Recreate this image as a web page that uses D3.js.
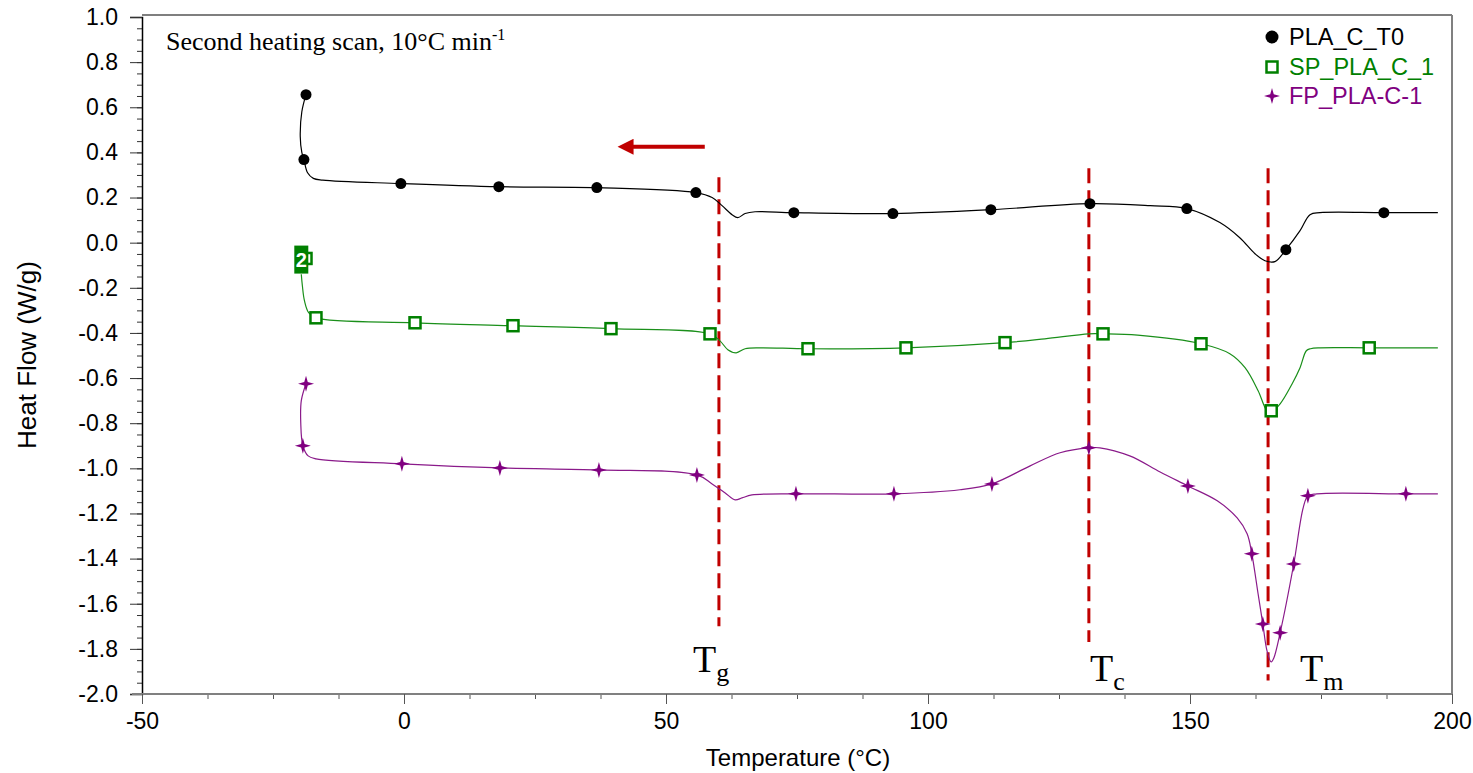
<!DOCTYPE html>
<html>
<head>
<meta charset="utf-8">
<script src="https://cdn.jsdelivr.net/npm/d3@7"></script>
<style>
  body { margin: 0; background: #fff; }
  svg { display: block; }
</style>
</head>
<body>
<div id="chart"></div>
<script>
// Data ---------------------------------------------------------------------------------------------------------------
const seriesNames = ["PLA_C_T0", "SP_PLA_C_1", "FP_PLA-C-1"];

// [temperature (°C), heat flow (W/g)]
const plaCurve = [
  [-18.7, 0.656], [-19.5, 0.58], [-19.8, 0.47], [-19.5, 0.40], [-19.1, 0.368], [-18.4, 0.31], [-17.3, 0.285],
  [-15.5, 0.277], [-0.6, 0.262], [18.1, 0.248], [36.8, 0.244], [55.7, 0.222], [58.8, 0.20], [60.7, 0.164],
  [62.6, 0.124], [63.7, 0.111], [65.1, 0.129], [67, 0.137], [74.4, 0.133], [93.3, 0.129], [112, 0.146],
  [130.9, 0.173], [142.4, 0.164], [149.4, 0.151], [155.7, 0.089], [159.5, 0.022], [162.4, -0.049],
  [164.3, -0.08], [166.2, -0.084], [168.3, -0.031], [171, 0.053], [172.9, 0.124], [174.8, 0.133],
  [187, 0.133], [197.3, 0.133]
];
const plaMarkers = [
  [-18.7, 0.656], [-19.1, 0.368], [-0.6, 0.262], [18.1, 0.248], [36.8, 0.244], [55.7, 0.222], [74.4, 0.133],
  [93.3, 0.129], [112, 0.146], [130.9, 0.173], [149.4, 0.151], [168.3, -0.031], [187, 0.133]
];

const spCurve = [
  [-19.6, -0.14], [-19.4, -0.19], [-19.0, -0.257], [-18.2, -0.31], [-16.8, -0.333], [2.1, -0.355],
  [20.8, -0.368], [39.5, -0.381], [58.4, -0.404], [60.3, -0.435], [61.8, -0.474], [63.4, -0.488],
  [65.1, -0.47], [68, -0.466], [77.1, -0.47], [95.8, -0.466], [114.7, -0.443], [122.3, -0.426],
  [130.7, -0.404], [133.4, -0.404], [140, -0.41], [152.1, -0.448], [157.6, -0.492], [160.5, -0.554],
  [163, -0.656], [164.7, -0.745], [165.5, -0.75], [167.2, -0.714], [169.5, -0.625], [171, -0.554],
  [172.2, -0.479], [173, -0.47], [174.8, -0.466], [184.2, -0.466], [197.3, -0.466]
];
const spMarkers = [
  [-18.7, -0.07], [-16.8, -0.333], [2.1, -0.355], [20.8, -0.368], [39.5, -0.381], [58.4, -0.404],
  [77.1, -0.47], [95.8, -0.466], [114.7, -0.443], [133.4, -0.404], [152.1, -0.448], [165.5, -0.745],
  [184.2, -0.466]
];
// stacked marker label at the start of the green scan
const spStack = { t: -19.6, v: -0.075, label: "2" };

const fpCurve = [
  [-18.7, -0.625], [-19.6, -0.70], [-19.7, -0.80], [-19.3, -0.90], [-18.3, -0.945], [-16.8, -0.958],
  [-0.4, -0.98], [18.3, -0.998], [37.2, -1.007], [55.9, -1.029], [58.8, -1.069], [61.3, -1.109],
  [63.2, -1.14], [64.5, -1.131], [66.4, -1.118], [74.8, -1.113], [93.5, -1.113], [106.1, -1.095],
  [112.2, -1.069], [119.5, -0.989], [125.2, -0.931], [130.7, -0.909], [132.8, -0.909], [138.5, -0.945],
  [144.3, -1.016], [149.6, -1.078], [155.2, -1.144], [159, -1.22], [160.9, -1.29], [161.8, -1.379],
  [163, -1.557], [163.9, -1.69], [164.7, -1.809], [165.5, -1.858], [166, -1.84], [167.2, -1.729],
  [169.8, -1.424], [171.6, -1.175], [172.5, -1.122], [174.2, -1.113], [191.2, -1.113], [197.3, -1.113]
];
const fpMarkers = [
  [-18.7, -0.625], [-19.3, -0.90], [-0.4, -0.98], [18.3, -0.998], [37.2, -1.007], [55.9, -1.029],
  [74.8, -1.113], [93.5, -1.113], [112.2, -1.069], [130.7, -0.909], [149.6, -1.078], [161.8, -1.379],
  [163.9, -1.69], [167.2, -1.729], [169.8, -1.424], [172.5, -1.122], [191.2, -1.113]
];

// transition temperatures marked with dashed lines: [temp, top value, bottom value, main, subscript]
const transitions = [
  [60.1, 0.29, -1.7, "T", "g"],
  [130.7, 0.33, -1.77, "T", "c"],
  [164.9, 0.33, -1.94, "T", "m"]
];

const xTicks = [-50, 0, 50, 100, 150, 200];
const yTicks = [1.0, 0.8, 0.6, 0.4, 0.2, 0.0, -0.2, -0.4, -0.6, -0.8, -1.0, -1.2, -1.4, -1.6, -1.8, -2.0];

// Canvas ---------------------------------------------------------------------------------------------------------
const canvasWidth = 1473;
const canvasHeight = 773;
const plotLeft = 142;
const plotRight = 1452;
const plotTop = 17;
const plotBottom = 694;

const svg = d3.select("#chart")
  .append("svg")
  .attr("width", canvasWidth)
  .attr("height", canvasHeight);

const xScale = d3.scaleLinear().domain([-50, 200]).range([plotLeft, plotRight]);
const yScale = d3.scaleLinear().domain([-2, 1]).range([plotBottom, plotTop]);

const colors = { pla: "#000000", sp: "#008000", fp: "#800080" };
const red = "#c00000";

// Frame -------------------------------------------------------------------------------------------------------------
svg.append("line")
  .attr("x1", plotLeft).attr("x2", plotRight)
  .attr("y1", plotTop - 2).attr("y2", plotTop - 2)
  .attr("stroke", "#000").attr("stroke-width", 1.2);
svg.append("line")
  .attr("x1", plotRight).attr("x2", plotRight)
  .attr("y1", plotTop - 2).attr("y2", plotBottom)
  .attr("stroke", "#808080").attr("stroke-width", 2);

// Axes ----------------------------------------------------------------------------------------------------------------
const axisFont = "Liberation Sans, Arial, sans-serif";

const yMinor = d3.range(-2, 1.0001, 0.05).map(d => +d.toFixed(2));
const yMinorAxis = svg.append("g")
  .attr("transform", "translate(" + plotLeft + ",0)")
  .call(d3.axisLeft(yScale).tickValues(yMinor).tickSize(5).tickFormat(""));
yMinorAxis.select(".domain").remove();
yMinorAxis.selectAll("line").attr("stroke", "#333");

const yAxis = svg.append("g")
  .attr("transform", "translate(" + plotLeft + ",0)")
  .call(d3.axisLeft(yScale).tickValues(yTicks).tickSize(12).tickPadding(12).tickFormat(d3.format(".1f")));
yAxis.select(".domain").attr("stroke", "#000").attr("stroke-width", 1.5);
yAxis.selectAll("line").attr("stroke", "#333");
yAxis.selectAll("text")
  .style("font-family", axisFont)
  .style("font-size", "23px")
  .attr("fill", "#000")
  .text(d => d3.format(".1f")(d).replace("−", "-"));

const xMinor = d3.range(-50, 200.001, 12.5);
const xMinorAxis = svg.append("g")
  .attr("transform", "translate(0," + plotBottom + ")")
  .call(d3.axisBottom(xScale).tickValues(xMinor).tickSize(5).tickFormat(""));
xMinorAxis.select(".domain").remove();
xMinorAxis.selectAll("line").attr("stroke", "#555");

const xAxis = svg.append("g")
  .attr("transform", "translate(0," + plotBottom + ")")
  .call(d3.axisBottom(xScale).tickValues(xTicks).tickSize(10).tickPadding(9).tickFormat(d => String(d)));
xAxis.select(".domain").attr("stroke", "#808080").attr("stroke-width", 2)
  .attr("d", "M" + (plotLeft - 10) + ",0H" + plotRight);
xAxis.selectAll("line").attr("stroke", "#555");
xAxis.selectAll("text")
  .style("font-family", axisFont)
  .style("font-size", "23px")
  .attr("fill", "#000");

svg.append("text")
  .text("Temperature (°C)")
  .attr("x", 798)
  .attr("y", 766)
  .attr("text-anchor", "middle")
  .style("font-family", axisFont)
  .style("font-size", "24px");

svg.append("text")
  .text("Heat Flow (W/g)")
  .attr("transform", "translate(36,355) rotate(-90)")
  .attr("text-anchor", "middle")
  .style("font-family", axisFont)
  .style("font-size", "26px");

// Transition lines ------------------------------------------------------------------------------------------------
transitions.forEach(function(t) {
  svg.append("line")
    .attr("x1", xScale(t[0])).attr("x2", xScale(t[0]))
    .attr("y1", yScale(t[1])).attr("y2", yScale(t[2]))
    .attr("stroke", red)
    .attr("stroke-width", 3)
    .attr("stroke-dasharray", "15,7");
});

// Curves --------------------------------------------------------------------------------------------------------------
const line = d3.line()
  .x(d => xScale(d[0]))
  .y(d => yScale(d[1]))
  .curve(d3.curveCatmullRom.alpha(0.5));

const chartGroup = svg.append("g");

[[plaCurve, colors.pla], [spCurve, "#1a8f1a"], [fpCurve, "#8a1a8a"]].forEach(function(s) {
  chartGroup.append("path")
    .datum(s[0])
    .attr("d", line)
    .attr("fill", "none")
    .attr("stroke", s[1])
    .attr("stroke-width", 1.2);
});

// Markers -------------------------------------------------------------------------------------------------------------
const sparkle = {
  draw: function(context, size) {
    const r = size;
    const w = r * 0.22;
    context.moveTo(0, -r);
    context.lineTo(w, -w);
    context.lineTo(r, 0);
    context.lineTo(w, w);
    context.lineTo(0, r);
    context.lineTo(-w, w);
    context.lineTo(-r, 0);
    context.lineTo(-w, -w);
    context.closePath();
  }
};

function drawCircle(g, x, y, r) {
  g.append("circle").attr("cx", x).attr("cy", y).attr("r", r || 5.5).attr("fill", colors.pla);
}
function drawSquare(g, x, y) {
  g.append("rect").attr("x", x - 5.5).attr("y", y - 5.5).attr("width", 11).attr("height", 11)
    .attr("fill", "#fff").attr("stroke", colors.sp).attr("stroke-width", 2.5);
}
function drawSparkle(g, x, y) {
  g.append("path").attr("d", d3.symbol().type(sparkle).size(8)())
    .attr("transform", "translate(" + x + "," + y + ")")
    .attr("fill", colors.fp);
}

plaMarkers.forEach(d => drawCircle(chartGroup, xScale(d[0]), yScale(d[1])));
spMarkers.forEach(d => drawSquare(chartGroup, xScale(d[0]), yScale(d[1])));
fpMarkers.forEach(d => drawSparkle(chartGroup, xScale(d[0]), yScale(d[1])));

// overlapped-marker badge on the green scan
chartGroup.append("rect")
  .attr("x", xScale(spStack.t) - 7).attr("y", yScale(spStack.v) - 14)
  .attr("width", 14).attr("height", 28)
  .attr("fill", colors.sp);
chartGroup.append("text")
  .text(spStack.label)
  .attr("x", xScale(spStack.t)).attr("y", yScale(spStack.v) + 7)
  .attr("text-anchor", "middle")
  .attr("fill", "#fff")
  .style("font-family", axisFont)
  .style("font-size", "20px")
  .style("font-weight", "bold");

// Annotations --------------------------------------------------------------------------------------------------------
const serif = "Liberation Serif, Times New Roman, serif";

const note = svg.append("text")
  .attr("x", 166).attr("y", 50)
  .style("font-family", serif)
  .style("font-size", "26px");
note.append("tspan").text("Second heating scan, 10°C min");
note.append("tspan").text("-1").attr("dy", -10).style("font-size", "16px");

transitions.forEach(function(t, i) {
  const label = svg.append("text")
    .attr("x", [693, 1090, 1300][i])
    .attr("y", [672, 681, 681][i])
    .style("font-family", serif)
    .style("font-size", "38px");
  label.append("tspan").text(t[3]);
  label.append("tspan").text(t[4]).attr("dy", 9).style("font-size", "26px");
});

// arrow pointing to lower temperature
const defs = svg.append("defs");
defs.append("marker")
  .attr("id", "arrowhead")
  .attr("viewBox", "0 0 10 10")
  .attr("refX", 2).attr("refY", 5)
  .attr("markerWidth", 4.5).attr("markerHeight", 4)
  .attr("orient", "auto")
  .append("path")
  .attr("d", "M0,0 L10,5 L0,10 z")
  .attr("fill", red);
svg.append("line")
  .attr("x1", xScale(57.4)).attr("x2", xScale(43.2))
  .attr("y1", yScale(0.425)).attr("y2", yScale(0.425))
  .attr("stroke", red)
  .attr("stroke-width", 4)
  .attr("marker-end", "url(#arrowhead)");

// Legend ----------------------------------------------------------------------------------------------------------------
const legend = svg.append("g");
const legendY = [37, 67, 96];
const legendColors = [colors.pla, colors.sp, colors.fp];
const legendDraw = [(g, x, y) => drawCircle(g, x, y, 6.5), drawSquare, drawSparkle];
seriesNames.forEach(function(name, i) {
  legendDraw[i](legend, 1272, legendY[i]);
  legend.append("text")
    .text(name)
    .attr("x", 1289)
    .attr("y", legendY[i])
    .attr("dy", "0.36em")
    .attr("fill", legendColors[i])
    .style("font-family", axisFont)
    .style("font-size", "23.5px");
});
</script>
</body>
</html>
